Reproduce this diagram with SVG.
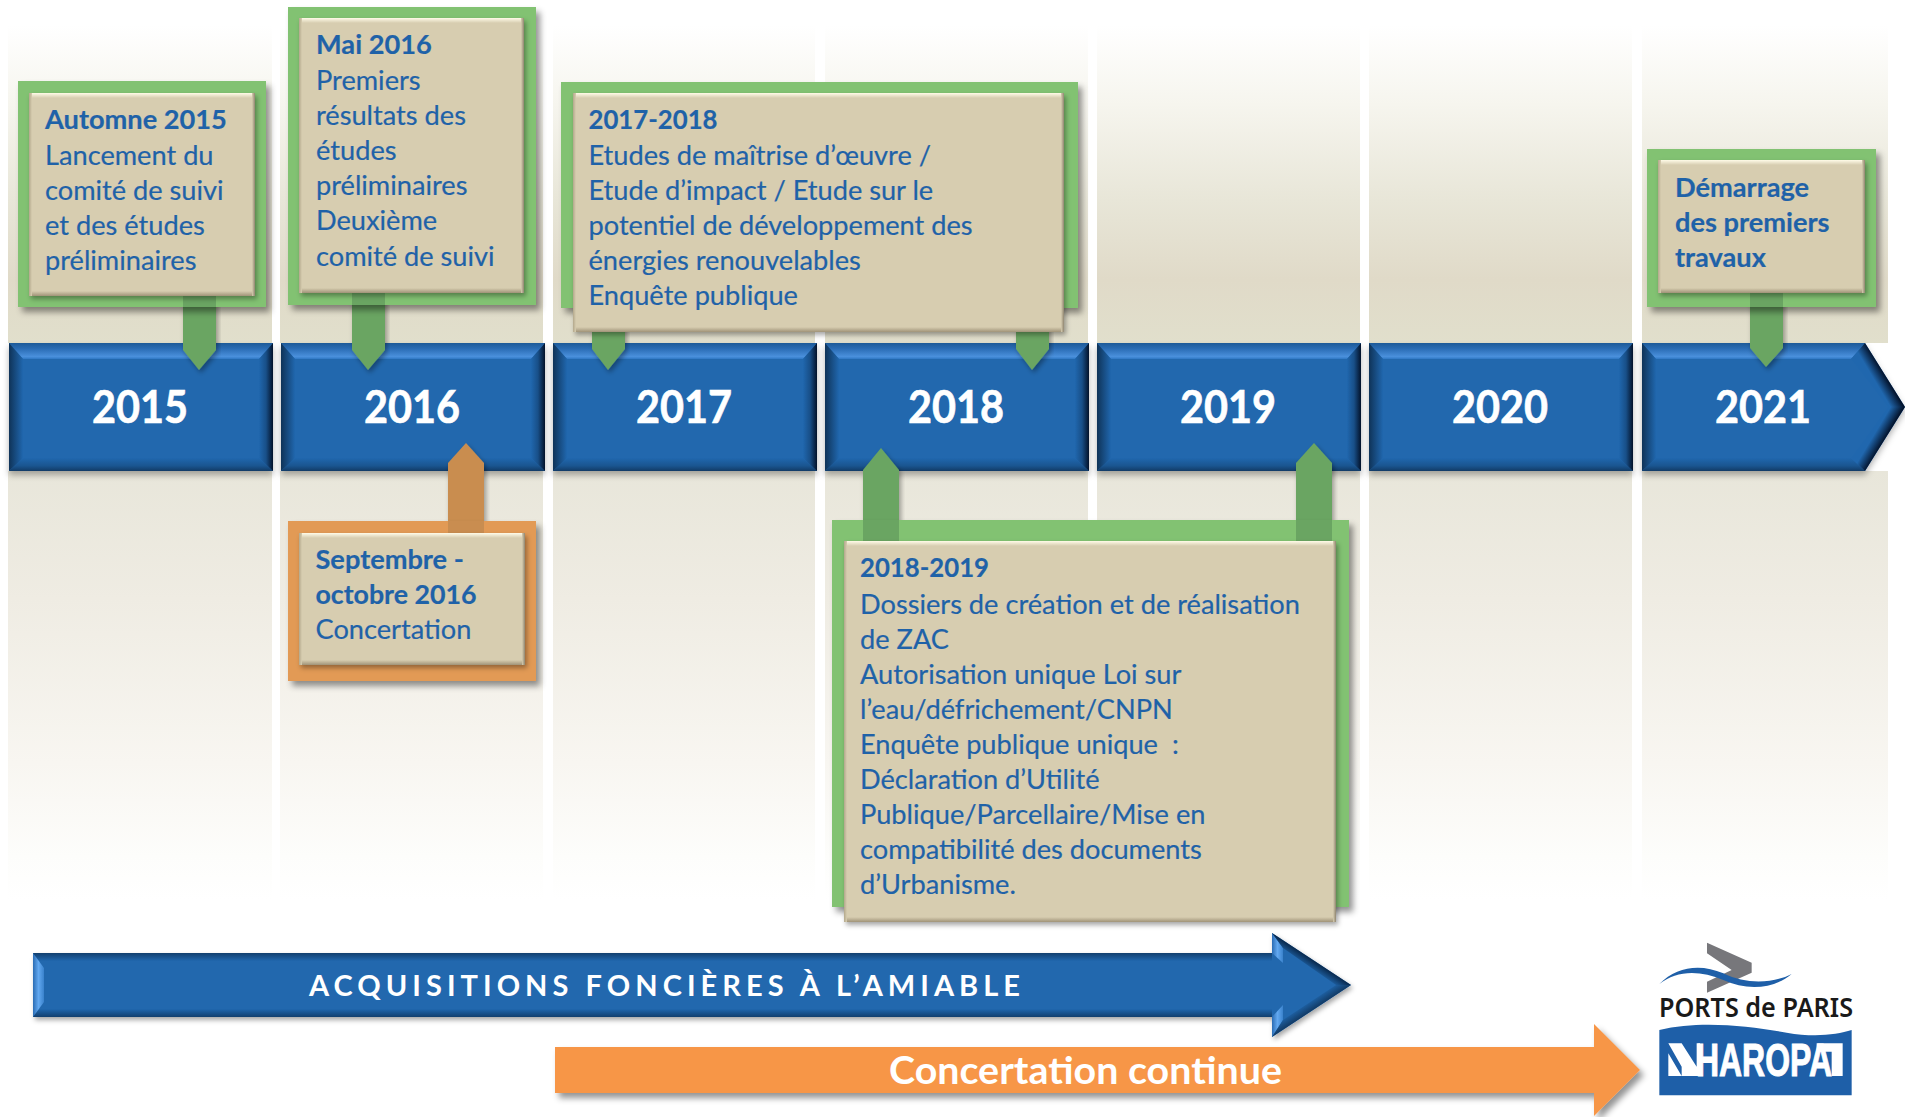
<svg xmlns="http://www.w3.org/2000/svg" width="1905" height="1117" viewBox="0 0 1905 1117">
<style>
text{font-family:"Lato","Liberation Sans",sans-serif}
.t{font-size:27.2px;fill:#1f62a8;stroke:#1f62a8;stroke-width:.2}
.b{font-weight:700}
.yr{font-size:45px;font-weight:700;fill:#fff;stroke:#fff;stroke-width:.6;text-anchor:middle}
.col1{fill:url(#gColT)}.col2{fill:url(#gColB)}
.fg{fill:#82c272}.fo{fill:#e29a55}
.pg{fill:#6aa562}.po{fill:#c98d50}
.in{fill:#d7cdb0}
.bt{fill:url(#bT)}.bb{fill:url(#bB)}.bl{fill:url(#bL)}.br{fill:url(#bR)}
</style>
<defs>
<linearGradient id="gColT" gradientUnits="userSpaceOnUse" x1="0" y1="25" x2="0" y2="343"><stop offset="0" stop-color="#fff"/><stop offset=".25" stop-color="#f6f5ee"/><stop offset=".55" stop-color="#e8e6d8"/><stop offset=".8" stop-color="#e0dac8"/><stop offset="1" stop-color="#e1dfcc"/></linearGradient>
<linearGradient id="gColB" gradientUnits="userSpaceOnUse" x1="0" y1="471" x2="0" y2="900"><stop offset="0" stop-color="#e8e6da"/><stop offset=".3" stop-color="#efece3"/><stop offset=".68" stop-color="#f8f6f1"/><stop offset=".9" stop-color="#fdfdfb"/><stop offset="1" stop-color="#fff"/></linearGradient>
<linearGradient id="yT" x1="0" y1="0" x2="0" y2="1"><stop offset="0" stop-color="#1d5a98"/><stop offset=".35" stop-color="#2a6cb4"/><stop offset=".85" stop-color="#4a90dc"/><stop offset="1" stop-color="#2f78c4"/></linearGradient>
<linearGradient id="yB" x1="0" y1="0" x2="0" y2="1"><stop offset="0" stop-color="#2067ae"/><stop offset=".6" stop-color="#1a5590"/><stop offset="1" stop-color="#123b66"/></linearGradient>
<linearGradient id="yL" x1="0" y1="0" x2="1" y2="0"><stop offset="0" stop-color="#0f3358"/><stop offset="1" stop-color="#2067ae"/></linearGradient>
<linearGradient id="yR" x1="0" y1="0" x2="1" y2="0"><stop offset="0" stop-color="#2067ae"/><stop offset=".5" stop-color="#184f88"/><stop offset="1" stop-color="#03122a"/></linearGradient>
<linearGradient id="yA1" gradientUnits="userSpaceOnUse" x1="1875" y1="381" x2="1885" y2="375"><stop offset="0" stop-color="#2067ae"/><stop offset="1" stop-color="#03122a"/></linearGradient>
<linearGradient id="yA2" gradientUnits="userSpaceOnUse" x1="1875" y1="433" x2="1885" y2="439"><stop offset="0" stop-color="#2067ae"/><stop offset="1" stop-color="#03122a"/></linearGradient>
<linearGradient id="yB1" gradientUnits="userSpaceOnUse" x1="1305.5" y1="967.4" x2="1311" y2="959"><stop offset="0" stop-color="#2067ae"/><stop offset="1" stop-color="#0a2a4e"/></linearGradient>
<linearGradient id="yB2" gradientUnits="userSpaceOnUse" x1="1305.5" y1="1002.6" x2="1311" y2="1011"><stop offset="0" stop-color="#2067ae"/><stop offset="1" stop-color="#123b66"/></linearGradient>
<linearGradient id="yLight" x1="0" y1="0" x2="1" y2="0"><stop offset="0" stop-color="#2a6cb4"/><stop offset=".5" stop-color="#62a8f0"/><stop offset="1" stop-color="#3a82cc"/></linearGradient>
<linearGradient id="yEdgeT" x1="0" y1="0" x2="0" y2="1"><stop offset="0" stop-color="#123f6e"/><stop offset="1" stop-color="#2067ae"/></linearGradient>
<linearGradient id="yEdgeB" x1="0" y1="0" x2="0" y2="1"><stop offset="0" stop-color="#2067ae"/><stop offset="1" stop-color="#123f6e"/></linearGradient>
<linearGradient id="bT" x1="0" y1="0" x2="0" y2="1"><stop offset="0" stop-color="#fffbe8"/><stop offset="1" stop-color="#d7cdb0"/></linearGradient>
<linearGradient id="bB" x1="0" y1="0" x2="0" y2="1"><stop offset="0" stop-color="#d7cdb0"/><stop offset="1" stop-color="#a09378"/></linearGradient>
<linearGradient id="bL" x1="0" y1="0" x2="1" y2="0"><stop offset="0" stop-color="#b3a88c"/><stop offset="1" stop-color="#d7cdb0"/></linearGradient>
<linearGradient id="bR" x1="0" y1="0" x2="1" y2="0"><stop offset="0" stop-color="#d7cdb0"/><stop offset="1" stop-color="#8f8570"/></linearGradient>
<filter id="sh" x="-10%" y="-10%" width="125%" height="125%"><feDropShadow dx="4" dy="5" stdDeviation="3" flood-color="#000" flood-opacity=".42"/></filter>
<filter id="sh2" x="-10%" y="-10%" width="125%" height="125%"><feDropShadow dx="2" dy="3" stdDeviation="2.5" flood-color="#000" flood-opacity=".35"/></filter>
<filter id="shY" x="-5%" y="-5%" width="110%" height="115%"><feDropShadow dx="0" dy="4" stdDeviation="3" flood-color="#000" flood-opacity=".3"/></filter>
<g id="yearBlock">
<rect width="264" height="128" fill="#2067ae" filter="url(#shY)"/>
<polygon points="0,0 264,0 250,16 14,16" fill="url(#yT)"/>
<polygon points="0,128 264,128 250,115 14,115" fill="url(#yB)"/>
<polygon points="0,0 14,16 14,115 0,128" fill="url(#yL)"/>
<polygon points="264,0 250,16 250,115 264,128" fill="url(#yR)"/>
</g>
</defs>
<rect width="1905" height="1117" fill="#fff"/>

<g id="columns">
<rect class="col1" x="8" y="0" width="264" height="343"/><rect class="col2" x="8" y="471" width="264" height="440"/>
<rect class="col1" x="280" y="0" width="263" height="343"/><rect class="col2" x="280" y="471" width="263" height="440"/>
<rect class="col1" x="553" y="0" width="262" height="343"/><rect class="col2" x="553" y="471" width="262" height="440"/>
<rect class="col1" x="825" y="0" width="263" height="343"/><rect class="col2" x="825" y="471" width="263" height="440"/>
<rect class="col1" x="1097" y="0" width="263" height="343"/><rect class="col2" x="1097" y="471" width="263" height="440"/>
<rect class="col1" x="1369" y="0" width="263" height="343"/><rect class="col2" x="1369" y="471" width="263" height="440"/>
<rect class="col1" x="1642" y="0" width="246" height="343"/><rect class="col2" x="1642" y="471" width="246" height="440"/>
</g>

<g id="timeline">
<g id="y2015"><use href="#yearBlock" x="9" y="343"/><text class="yr" x="140" y="423" textLength="96" lengthAdjust="spacingAndGlyphs">2015</text></g>
<g id="y2016"><use href="#yearBlock" x="281" y="343"/><text class="yr" x="412" y="423" textLength="96" lengthAdjust="spacingAndGlyphs">2016</text></g>
<g id="y2017"><use href="#yearBlock" x="553" y="343"/><text class="yr" x="684" y="423" textLength="96" lengthAdjust="spacingAndGlyphs">2017</text></g>
<g id="y2018"><use href="#yearBlock" x="825" y="343"/><text class="yr" x="956" y="423" textLength="96" lengthAdjust="spacingAndGlyphs">2018</text></g>
<g id="y2019"><use href="#yearBlock" x="1097" y="343"/><text class="yr" x="1228" y="423" textLength="96" lengthAdjust="spacingAndGlyphs">2019</text></g>
<g id="y2020"><use href="#yearBlock" x="1369" y="343"/><text class="yr" x="1500" y="423" textLength="96" lengthAdjust="spacingAndGlyphs">2020</text></g>
<g id="y2021">
<polygon points="1642,343 1865,343 1905,407 1865,471 1642,471" fill="#2067ae" filter="url(#shY)"/>
<polygon points="1642,343 1865,343 1851,359 1656,359" fill="url(#yT)"/>
<polygon points="1642,471 1865,471 1851,458 1656,458" fill="url(#yB)"/>
<polygon points="1642,343 1656,359 1656,458 1642,471" fill="url(#yL)"/>
<polygon points="1865,343 1905,407 1888,407 1851,359" fill="url(#yA1)"/>
<polygon points="1865,471 1905,407 1888,407 1851,458" fill="url(#yA2)"/>
<text class="yr" x="1763" y="423" textLength="96" lengthAdjust="spacingAndGlyphs">2021</text>
</g>
</g>

<g id="connectors">
<polygon class="pg" filter="url(#sh2)" points="183,290 216,290 216,350 199,370 183,350"/>
<polygon class="pg" filter="url(#sh2)" points="352,290 385,290 385,350 368,370 352,350"/>
<polygon class="pg" filter="url(#sh2)" points="592,325 625,325 625,349 608,370 592,349"/>
<polygon class="pg" filter="url(#sh2)" points="1016,325 1049,325 1049,349 1032,370 1016,349"/>
<polygon class="pg" filter="url(#sh2)" points="1750,290 1783,290 1783,348 1766,367 1750,348"/>
<polygon class="po" filter="url(#sh2)" points="448,540 448,463 466,443 484,463 484,540"/>
<polygon class="pg" filter="url(#sh2)" points="863,545 863,470 881,448 899,470 899,545"/>
<polygon class="pg" filter="url(#sh2)" points="1296,545 1296,463 1314,443 1332,463 1332,545"/>
</g>

<g id="n-automne">
<rect class="fg" x="18" y="81" width="248" height="226" filter="url(#sh)"/>
<polygon class="pg" points="183,296 216,296 216,307 183,307"/>
<rect class="in" x="29" y="93" width="226" height="203" filter="url(#sh2)"/>
<rect class="bt" x="29" y="93" width="226" height="5"/><rect class="bb" x="29" y="291" width="226" height="5"/><rect class="bl" x="29" y="93" width="3" height="203"/><rect class="br" x="252" y="93" width="3" height="203"/>
<text class="t b" x="45" y="129">Automne 2015</text>
<text class="t" x="45" y="165">Lancement du</text>
<text class="t" x="45" y="200">comité de suivi</text>
<text class="t" x="45" y="235">et des études</text>
<text class="t" x="45" y="270">préliminaires</text>
</g>

<g id="n-mai">
<rect class="fg" x="288" y="7" width="248" height="298" filter="url(#sh)"/>
<polygon class="pg" points="352,293 385,293 385,305 352,305"/>
<rect class="in" x="299" y="18" width="225" height="275" filter="url(#sh2)"/>
<rect class="bt" x="299" y="18" width="225" height="5"/><rect class="bb" x="299" y="288" width="225" height="5"/><rect class="bl" x="299" y="18" width="3" height="275"/><rect class="br" x="521" y="18" width="3" height="275"/>
<text class="t b" x="316" y="54">Mai 2016</text>
<text class="t" x="316" y="90">Premiers</text>
<text class="t" x="316" y="125">résultats des</text>
<text class="t" x="316" y="160">études</text>
<text class="t" x="316" y="195">préliminaires</text>
<text class="t" x="316" y="230">Deuxième</text>
<text class="t" x="316" y="266">comité de suivi</text>
</g>

<g id="n-2017">
<rect class="fg" x="561" y="82" width="517" height="226" filter="url(#sh)"/>
<rect class="in" x="573" y="93" width="491" height="239" filter="url(#sh2)"/>
<rect class="bt" x="573" y="93" width="491" height="5"/><rect class="bb" x="573" y="327" width="491" height="5"/><rect class="bl" x="573" y="93" width="3" height="239"/><rect class="br" x="1061" y="93" width="3" height="239"/>
<text class="t b" x="588.5" y="129" textLength="129" lengthAdjust="spacingAndGlyphs">2017-2018</text>
<text class="t" x="588.5" y="165">Etudes de maîtrise d’œuvre /</text>
<text class="t" x="588.5" y="200">Etude d’impact / Etude sur le</text>
<text class="t" x="588.5" y="235">potentiel de développement des</text>
<text class="t" x="588.5" y="270">énergies renouvelables</text>
<text class="t" x="588.5" y="305">Enquête publique</text>
</g>

<g id="n-demarrage">
<rect class="fg" x="1647" y="149" width="229" height="158" filter="url(#sh)"/>
<polygon class="pg" points="1750,293 1783,293 1783,307 1750,307"/>
<rect class="in" x="1658" y="160" width="207" height="133" filter="url(#sh2)"/>
<rect class="bt" x="1658" y="160" width="207" height="5"/><rect class="bb" x="1658" y="288" width="207" height="5"/><rect class="bl" x="1658" y="160" width="3" height="133"/><rect class="br" x="1862" y="160" width="3" height="133"/>
<text class="t b" x="1675" y="197">Démarrage</text>
<text class="t b" x="1675" y="232">des premiers</text>
<text class="t b" x="1675" y="267">travaux</text>
</g>

<g id="n-septembre">
<rect class="fo" x="288" y="521" width="248" height="160" filter="url(#sh)"/>
<polygon class="po" points="448,521 484,521 484,533 448,533"/>
<rect class="in" x="299" y="533" width="226" height="132" filter="url(#sh2)"/>
<rect class="bt" x="299" y="533" width="226" height="5"/><rect class="bb" x="299" y="660" width="226" height="5"/><rect class="bl" x="299" y="533" width="3" height="132"/><rect class="br" x="522" y="533" width="3" height="132"/>
<text class="t b" x="315.5" y="569">Septembre -</text>
<text class="t b" x="315.5" y="604" textLength="161" lengthAdjust="spacingAndGlyphs">octobre 2016</text>
<text class="t" x="315.5" y="639">Concertation</text>
</g>

<g id="n-2018">
<rect class="fg" x="832" y="520" width="517" height="387" filter="url(#sh)"/>
<polygon class="pg" points="863,520 899,520 899,541 863,541"/>
<polygon class="pg" points="1296,520 1332,520 1332,541 1296,541"/>
<rect class="in" x="844" y="541" width="492" height="381" filter="url(#sh2)"/>
<rect class="bt" x="844" y="541" width="492" height="5"/><rect class="bb" x="844" y="917" width="492" height="5"/><rect class="bl" x="844" y="541" width="3" height="381"/><rect class="br" x="1333" y="541" width="3" height="381"/>
<text class="t b" x="860" y="577" textLength="129" lengthAdjust="spacingAndGlyphs">2018-2019</text>
<text class="t" x="860" y="614">Dossiers de création et de réalisation</text>
<text class="t" x="860" y="649">de ZAC</text>
<text class="t" x="860" y="684">Autorisation unique Loi sur</text>
<text class="t" x="860" y="719">l’eau/défrichement/CNPN</text>
<text class="t" x="860" y="754" xml:space="preserve">Enquête publique unique  :</text>
<text class="t" x="860" y="789">Déclaration d’Utilité</text>
<text class="t" x="860" y="824">Publique/Parcellaire/Mise en</text>
<text class="t" x="860" y="859">compatibilité des documents</text>
<text class="t" x="860" y="894">d’Urbanisme.</text>
</g>

<g id="n-acquisitions">
<polygon points="33,953 1272,953 1272,933 1351,985 1272,1037 1272,1017 33,1017" fill="#2067ae" filter="url(#sh2)"/>
<rect x="33" y="953" width="1239" height="8" fill="url(#yEdgeT)"/>
<rect x="33" y="1009" width="1239" height="8" fill="url(#yEdgeB)"/>
<polygon points="33,953 44,968 44,1002 33,1017" fill="url(#yLight)"/>
<polygon points="1272,933 1283,948 1283,963 1272,953" fill="url(#yLight)"/>
<polygon points="1272,1037 1283,1020 1283,1005 1272,1017" fill="url(#yLight)"/>
<polygon points="1272,933 1351,985 1336,985 1283,948" fill="url(#yB1)"/>
<polygon points="1272,1037 1351,985 1336,985 1283,1020" fill="url(#yB2)"/>
<text x="309" y="996" font-size="29" font-weight="700" fill="#fff" textLength="711" lengthAdjust="spacing">ACQUISITIONS FONCIÈRES À L’AMIABLE</text>
</g>

<g id="n-concertation">
<polygon points="555,1047 1594,1047 1594,1024 1640,1070 1594,1116 1594,1093 555,1093" fill="#f79646" filter="url(#sh)"/>
<text x="889" y="1084" font-size="38" font-weight="700" fill="#fff" textLength="393" lengthAdjust="spacingAndGlyphs">Concertation continue</text>
</g>

<g id="logo">
<g transform="translate(1600 920) scale(.33333)">
<polygon points="321,68 455,128 455,158 321,218 321,185 395,150 321,100" fill="#77777b"/>
<path d="M178,192 C230,140 300,130 370,160 C440,195 520,190 575,162 C520,208 440,212 370,180 C300,150 230,150 178,192Z" fill="#1e5fa8"/>
<path d="M178,330 C300,300 450,318 560,338 C640,352 710,345 755,330 L755,526 L178,526Z" fill="#1e5fa8"/>
<polygon points="205,370 245,370 290,440 290,370 300,370 300,468 205,468 205,400 245,468 245,440" fill="#fff"/>
<polygon points="650,370 728,370 728,468 695,468 695,395 650,395" fill="#fff"/>
</g>
<text x="1659" y="1017" font-size="26.5" font-weight="600" fill="#1a1a1a" style="font-family:'Noto Sans','Open Sans',sans-serif" textLength="194" lengthAdjust="spacingAndGlyphs">PORTS de PARIS</text>
<text x="1696" y="1076" font-size="46" font-weight="700" fill="#fff" stroke="#fff" stroke-width="1" style="font-family:'Liberation Sans',sans-serif" textLength="136" lengthAdjust="spacingAndGlyphs">HAROPA</text>
</g>
</svg>
